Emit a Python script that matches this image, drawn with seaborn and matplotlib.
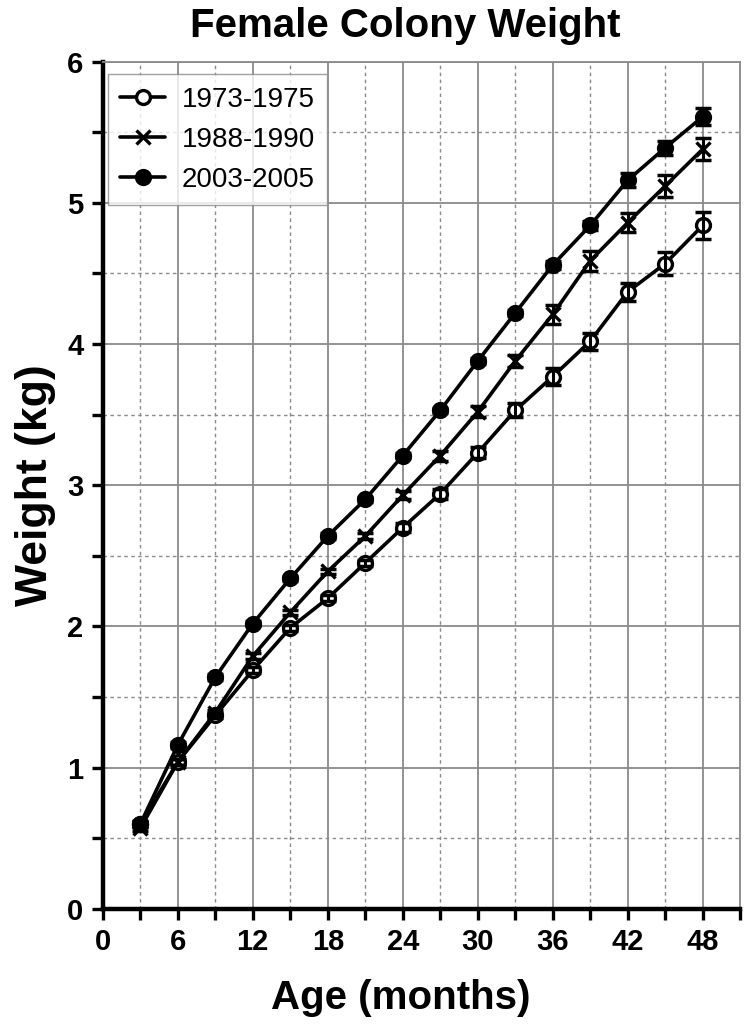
import numpy as np
import seaborn as sns
import matplotlib.pyplot as plt
from matplotlib.ticker import MultipleLocator

age = [3, 6, 9, 12, 15, 18, 21, 24, 27, 30, 33, 36, 39, 42, 45, 48]

w_1973 = [0.60, 1.04, 1.37, 1.69, 1.99, 2.20, 2.45, 2.70, 2.94, 3.23, 3.53, 3.77, 4.02, 4.37, 4.57, 4.84]
se_1973 = [0.02, 0.02, 0.02, 0.02, 0.02, 0.02, 0.02, 0.03, 0.035, 0.04, 0.05, 0.06, 0.06, 0.065, 0.08, 0.095]

w_1988 = [0.57, 1.04, 1.39, 1.79, 2.10, 2.39, 2.64, 2.93, 3.21, 3.52, 3.88, 4.21, 4.59, 4.86, 5.12, 5.38]
se_1988 = [0.02, 0.02, 0.02, 0.02, 0.02, 0.02, 0.02, 0.03, 0.035, 0.04, 0.045, 0.07, 0.07, 0.07, 0.08, 0.08]

w_2003 = [0.60, 1.16, 1.64, 2.02, 2.34, 2.64, 2.90, 3.21, 3.53, 3.88, 4.22, 4.56, 4.84, 5.16, 5.39, 5.61]
se_2003 = [0.02, 0.02, 0.02, 0.02, 0.02, 0.02, 0.02, 0.02, 0.02, 0.02, 0.02, 0.03, 0.03, 0.05, 0.05, 0.06]

labels = ['1973-1975', '1988-1990', '2003-2005']

sns.set_style('white')
plt.rcParams['font.family'] = ['Liberation Sans', 'DejaVu Sans']
plt.rcParams['text.color'] = 'black'
plt.rcParams['axes.labelcolor'] = 'black'
plt.rcParams['xtick.color'] = 'black'
plt.rcParams['ytick.color'] = 'black'

fig = plt.figure(figsize=(7.5, 10.27), dpi=100)
ax = fig.add_axes([0.137, 0.115, 0.85, 0.825])

series = [
    (w_1973, se_1973, labels[0], 'o', 'white'),
    (w_1988, se_1988, labels[1], 'x', 'black'),
    (w_2003, se_2003, labels[2], 'o', 'black'),
]

for w, se, lab, mk, fc in series:
    sns.lineplot(x=age, y=w, ax=ax, color='black', linewidth=2.6, marker=mk,
                 markersize=10 if mk == 'o' else 10.5, markerfacecolor=fc,
                 markeredgecolor='black', markeredgewidth=2.4, label=lab, zorder=3)
    ax.errorbar(age, w, yerr=se, fmt='none', ecolor='black', elinewidth=2.2,
                capsize=5.5, capthick=2.5, zorder=4)

ax.set_xlim(0, 51)
ax.set_ylim(0, 6)
ax.xaxis.set_major_locator(MultipleLocator(6))
ax.xaxis.set_minor_locator(MultipleLocator(3))
ax.yaxis.set_major_locator(MultipleLocator(1))
ax.yaxis.set_minor_locator(MultipleLocator(0.5))

ax.grid(which='major', color='#8a8a8a', linewidth=1.3, linestyle='-')
ax.grid(which='minor', color='#8a8a8a', linewidth=1.0, linestyle=(0, (2.5, 2.5)))
ax.set_axisbelow(True)

for s in ['left', 'bottom']:
    ax.spines[s].set_linewidth(3.2)
    ax.spines[s].set_color('black')
for s in ['top', 'right']:
    ax.spines[s].set_linewidth(1.3)
    ax.spines[s].set_color('#8a8a8a')

ax.tick_params(which='both', direction='out', length=8, width=2.4, color='black',
               bottom=True, left=True, top=False, right=False)
ax.tick_params(which='major', labelsize=21, pad=6)
for t in ax.get_xticklabels() + ax.get_yticklabels():
    t.set_fontweight('bold')

ax.set_xlabel('Age (months)', fontsize=29, fontweight='bold', labelpad=16, x=0.468)
ax.set_ylabel('Weight (kg)', fontsize=32, fontweight='bold', labelpad=8)
ax.set_title('Female Colony Weight', fontsize=29, fontweight='bold', pad=18, x=0.475)

leg = ax.legend(loc='upper left', bbox_to_anchor=(0.008, 0.985), fontsize=20,
                frameon=True, fancybox=False, edgecolor='#8a8a8a', handlelength=1.6,
                borderaxespad=0.0, labelspacing=0.5, handletextpad=0.6, borderpad=0.45)
leg.get_frame().set_linewidth(1.0)

fig.savefig('out.png', dpi=100, facecolor='white')
